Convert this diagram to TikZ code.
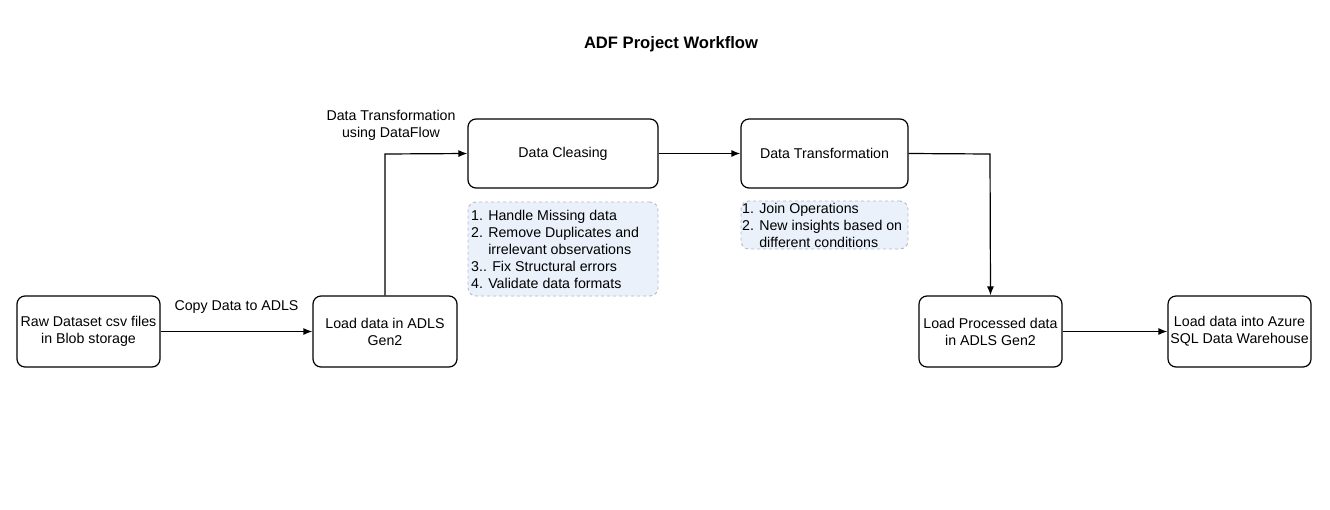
\documentclass[tikz,border=0pt]{standalone}
\usepackage{fontspec}
\setmainfont{Liberation Sans}
\usetikzlibrary{arrows.meta}
\definecolor{notefill}{HTML}{EAF1FB}
\definecolor{notedraw}{HTML}{AFB8CE}
\begin{document}
\begin{tikzpicture}[x=1pt,y=-1pt,
  every node/.style={font=\fontsize{14.2}{17}\selectfont},
  proc/.style={draw, rounded corners=8pt, line width=1.2pt, align=center, inner sep=0pt},
  note/.style={draw=notedraw, fill=notefill, dashed, rounded corners=8pt, line width=0.9pt, align=left, inner sep=0pt},
  conn/.style={-{Latex[length=9pt,width=7pt]}, line width=1.2pt},
  lbl/.style={align=center}]
\useasboundingbox (0,0) rectangle (1330,509);
\node[font=\fontsize{16.6}{19}\selectfont\bfseries] (title) at (671,44) {ADF Project Workflow};
\node[proc, minimum width=143pt, minimum height=71pt] (raw) at (88.5,331.5) {Raw Dataset csv files\\in Blob storage};
\node[proc, minimum width=144pt, minimum height=71pt] (adls) at (385,331.5) {Load data in ADLS\\Gen2};
\node[proc, minimum width=190pt, minimum height=69pt] (clean) at (563,153.5) {Data Cleasing};
\node[proc, minimum width=167pt, minimum height=69pt] (trans) at (824.5,153.5) {Data Transformation};
\node[proc, minimum width=143pt, minimum height=71pt] (proc) at (990.5,331.5) {Load Processed data\\in ADLS Gen2};
\node[proc, minimum width=143pt, minimum height=71pt] (azure) at (1239.5,331.5) {Load data into Azure\\SQL Data Warehouse};
\node[note, minimum width=190pt, minimum height=94pt] (n1) at (563,249) {};
\node[anchor=west, align=left, inner sep=0pt] (n1t) at (471,249) {1. Handle Missing data\\2. Remove Duplicates and\\\phantom{2. }irrelevant observations\\3.. Fix Structural errors\\4. Validate data formats};
\node[note, minimum width=167pt, minimum height=48pt] (n2) at (824.5,225) {};
\node[anchor=west, align=left, inner sep=0pt] (n2t) at (742,225) {1. Join Operations\\2. New insights based on\\\phantom{2. }different conditions};
\draw[conn] (raw) -- node[lbl, above=14pt] {Copy Data to ADLS} (adls);
\coordinate (bend1) at (385,154);
\draw[conn] (adls.north) -- (bend1) -- (clean.west);
\node[lbl] (dflbl) at (391,125) {Data Transformation\\using DataFlow};
\draw[conn] (clean) -- (trans);
\coordinate (bend2) at (990,154);
\draw[conn] (trans.east) -- (bend2) -- (proc.north);
\draw[conn] (proc) -- (azure);
\end{tikzpicture}
\end{document}
